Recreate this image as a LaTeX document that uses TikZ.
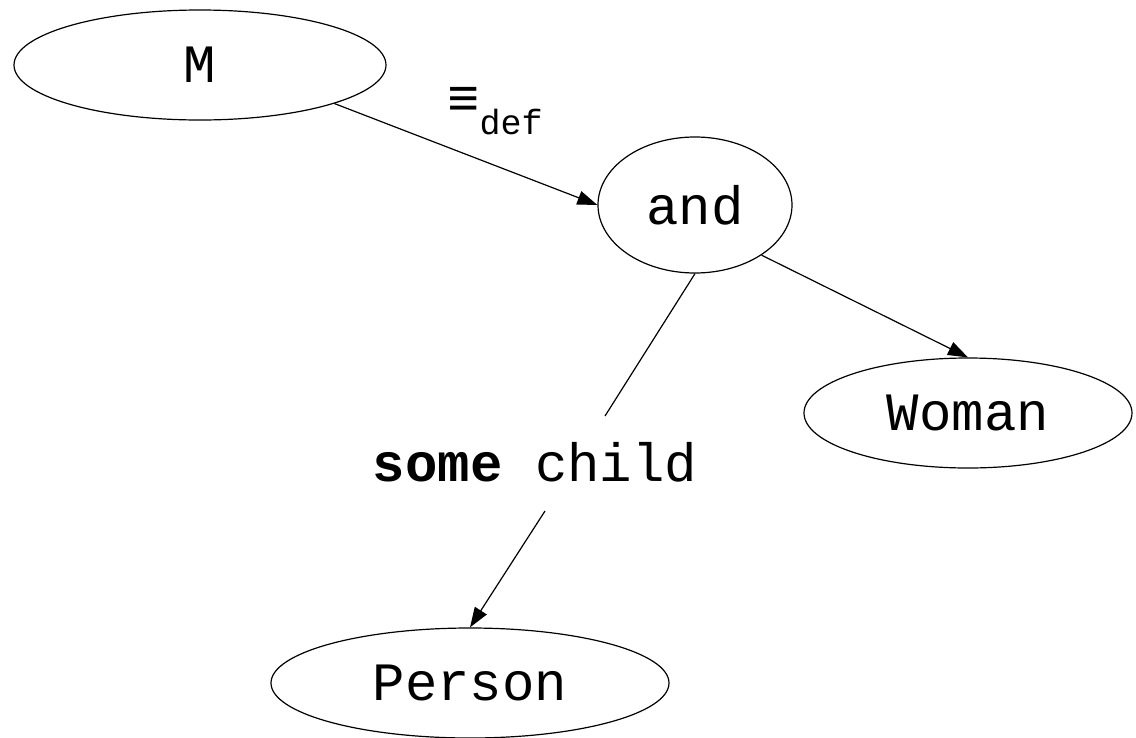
\documentclass[tikz,border=0pt]{standalone}
\usepackage{fontspec}
\setmainfont{Liberation Mono}
\usetikzlibrary{shapes.geometric,arrows.meta}
\begin{document}
\begin{tikzpicture}[x=1pt,y=-1pt,
  ell/.style={draw,ellipse,inner sep=0pt,line width=1.2pt,font=\fontsize{54}{54}\selectfont},
  edge/.style={line width=1.2pt},
  arr/.style={edge,-{Triangle[length=20pt,width=14pt]}},
  lbl/.style={inner sep=0pt,font=\fontsize{54}{54}\selectfont}]
\useasboundingbox (0,0) rectangle (1136,737);
\node[ell,minimum width=372pt,minimum height=110pt] (M) at (200,65) {M};
\node[ell,minimum width=194pt,minimum height=136pt] (and) at (695,205) {and};
\node[ell,minimum width=328pt,minimum height=110pt] (Woman) at (968,413) {Woman};
\node[ell,minimum width=398pt,minimum height=110pt] (Person) at (470,683) {Person};
\node[lbl] (some) at (535,462) {\textbf{some} child};
\node[lbl,anchor=base west] (def) at (447,116) {\textbf{≡}\raisebox{-18pt}{\fontsize{35}{35}\selectfont def}};
\coordinate (c1) at (605,416);
\coordinate (c2) at (545,511);
\draw[arr] (M.-16) -- (and.west);
\draw[arr] (and.-37) -- (Woman.north);
\draw[edge] (and.south) -- (c1);
\draw[arr] (c2) -- (Person.north);
\end{tikzpicture}
\end{document}
